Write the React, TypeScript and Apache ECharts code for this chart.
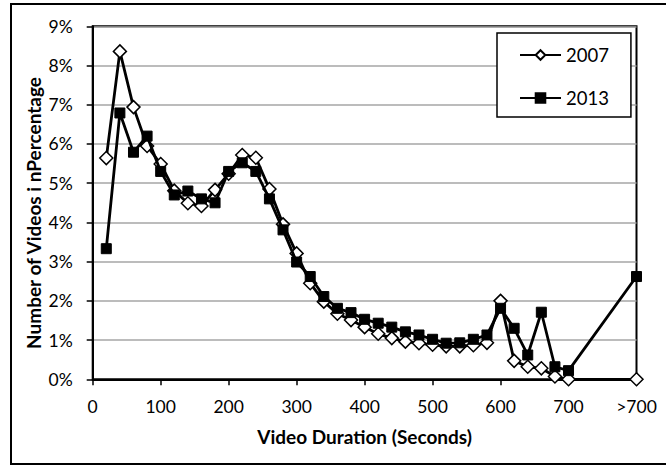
import React, { useEffect, useRef } from "react";
import * as echarts from "echarts";

const durations = [20, 40, 60, 80, 100, 120, 140, 160, 180, 200, 220, 240, 260, 280, 300, 320, 340, 360, 380, 400, 420, 440, 460, 480, 500, 520, 540, 560, 580, 600, 620, 640, 660, 680, 700, 800];
const pct2007 = [5.64, 8.36, 6.94, 5.95, 5.49, 4.81, 4.49, 4.42, 4.83, 5.24, 5.72, 5.65, 4.85, 3.95, 3.21, 2.45, 1.98, 1.67, 1.51, 1.33, 1.16, 1.05, 0.96, 0.92, 0.88, 0.84, 0.84, 0.87, 0.93, 2.0, 0.47, 0.32, 0.28, 0.07, 0.0, 0.0];
const pct2013 = [3.33, 6.79, 5.79, 6.2, 5.3, 4.7, 4.8, 4.6, 4.5, 5.3, 5.52, 5.3, 4.6, 3.81, 2.99, 2.62, 2.11, 1.81, 1.7, 1.53, 1.43, 1.33, 1.21, 1.13, 1.02, 0.92, 0.93, 1.02, 1.13, 1.81, 1.3, 0.62, 1.71, 0.32, 0.22, 2.62];
const xTicks = [0, 100, 200, 300, 400, 500, 600, 700, 800];
const xTickLabels = ["0", "100", "200", "300", "400", "500", "600", "700", ">700"];
const seriesNames = ["2007", "2013"];

const FONT = "Lato";

export default function App() {
  const ref = useRef<HTMLDivElement>(null);
  useEffect(() => {
    document.body.style.margin = "0";
    const chart = echarts.init(ref.current!, null, { renderer: "svg" });
    const toPairs = (vals: number[]) => durations.map((d, i) => [d, vals[i]]);
    chart.setOption({
      animation: false,
      backgroundColor: "#ffffff",
      grid: { left: 92.7, right: 29.5, top: 26.3, bottom: 86.7, show: true, borderColor: "#000", borderWidth: 2, backgroundColor: "transparent" },
      xAxis: {
        type: "value",
        min: 0,
        max: 800,
        interval: 100,
        name: "Video Duration (Seconds)",
        nameLocation: "middle",
        nameGap: 48,
        nameTextStyle: { fontFamily: FONT, fontWeight: "bold", fontSize: 19, color: "#000" },
        axisLine: { show: true, lineStyle: { color: "#000", width: 2 } },
        axisTick: { show: true, inside: false, length: 6, lineStyle: { color: "#000", width: 1.5 } },
        axisLabel: {
          fontFamily: FONT,
          fontSize: 17.5,
          color: "#000",
          margin: 18,
          formatter: (v: number) => {
            const i = xTicks.indexOf(v);
            return i >= 0 ? xTickLabels[i] : "";
          },
        },
        splitLine: { show: false },
      },
      yAxis: {
        type: "value",
        min: 0,
        max: 9,
        interval: 1,
        axisLine: { show: true, lineStyle: { color: "#000", width: 2 } },
        axisTick: { show: true, inside: false, length: 6, lineStyle: { color: "#000", width: 1.5 } },
        axisLabel: { fontFamily: FONT, fontSize: 17.5, color: "#000", margin: 20, formatter: "{value}%" },
        splitLine: { show: true, lineStyle: { color: "#a6a6a6", width: 1.5 } },
      },
      legend: {
        orient: "vertical",
        left: 497,
        top: 33,
        data: seriesNames,
        itemWidth: 41,
        itemHeight: 12,
        itemGap: 23,
        padding: [12, 22, 9, 22],
        borderColor: "#000",
        borderWidth: 1.5,
        backgroundColor: "#fff",
        textStyle: { fontFamily: FONT, fontSize: 18.5, color: "#000", lineHeight: 20 },
      },
      graphic: [
        {
          type: "rect",
          shape: { x: 11, y: 4, width: 680, height: 460 },
          style: { fill: "none", stroke: "#000", lineWidth: 2 },
          silent: true,
        },
        {
          type: "text",
          x: 33,
          y: 213,
          rotation: Math.PI / 2,
          style: {
            text: "Number of Videos i nPercentage",
            fontFamily: FONT,
            fontWeight: "bold",
            fontSize: 19,
            fill: "#000",
            textAlign: "center",
            textVerticalAlign: "middle",
          },
        },
      ],
      series: [
        {
          name: seriesNames[0],
          type: "line",
          data: toPairs(pct2007),
          symbol: "diamond",
          symbolSize: 13,
          lineStyle: { color: "#000", width: 2.8 },
          itemStyle: { color: "#fff", borderColor: "#000", borderWidth: 1.5 },
          z: 2,
        },
        {
          name: seriesNames[1],
          type: "line",
          data: toPairs(pct2013),
          symbol: "rect",
          symbolSize: 10,
          lineStyle: { color: "#000", width: 2.8 },
          itemStyle: { color: "#000", borderColor: "#000", borderWidth: 1 },
          z: 3,
        },
      ],
    });
    return () => chart.dispose();
  }, []);
  return <div ref={ref} style={{ width: 666, height: 466 }} />;
}
